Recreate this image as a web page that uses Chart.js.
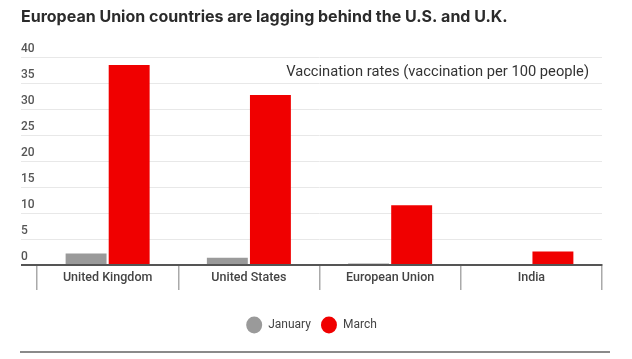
<!DOCTYPE html>
<html>
<head>
<meta charset="utf-8">
<script src="https://cdn.jsdelivr.net/npm/chart.js@4.4.1/dist/chart.umd.min.js"></script>
<style>
  html, body { margin: 0; padding: 0; background: #fff; }
  #wrap { width: 632px; height: 359px; }
</style>
</head>
<body>
<div id="wrap"><canvas id="barChart"></canvas></div>
<script>
const countries = ['United Kingdom', 'United States', 'European Union', 'India'];
const january = [2.2, 1.4, 0.3, 0];
const march = [38.5, 32.7, 11.5, 2.6];
const yTicks = [0, 5, 10, 15, 20, 25, 30, 35, 40];

const noteText = 'Vaccination rates (vaccination per 100 people)';

// annotation in the top right + rule under the legend
const extras = {
  id: 'extras',
  afterDraw: (chart) => {
    const ctx = chart.ctx;
    const area = chart.chartArea;
    ctx.save();
    ctx.font = '14.7px Roboto';
    ctx.fillStyle = '#333';
    ctx.textAlign = 'right';
    ctx.textBaseline = 'middle';
    ctx.fillText(noteText, area.right - 13, area.top + 15);
    ctx.strokeStyle = '#8a8a8a';
    ctx.lineWidth = 2;
    ctx.beginPath();
    ctx.moveTo(20, 352);
    ctx.lineTo(610, 352);
    ctx.stroke();
    ctx.restore();
  }
};

new Chart('barChart', {
  type: 'bar',
  data: {
    labels: countries,
    datasets: [
      { label: 'January', data: january, backgroundColor: '#9a9a9a' },
      { label: 'March', data: march, backgroundColor: '#f00000' }
    ]
  },
  options: {
    responsive: true,
    maintainAspectRatio: false,
    animation: false,
    categoryPercentage: 0.61,
    barPercentage: 0.95,
    layout: { padding: { left: 21, right: 30, top: 0, bottom: 18 } },
    plugins: {
      title: {
        display: true,
        text: 'European Union countries are lagging behind the U.S. and U.K.',
        align: 'start',
        color: '#2b2b2b',
        font: { family: 'Inter', size: 16, weight: 'bold' },
        padding: { top: 8, bottom: 30 }
      },
      legend: {
        position: 'bottom',
        labels: {
          usePointStyle: true,
          pointStyle: 'circle',
          pointStyleWidth: 16,
          boxHeight: 12,
          color: '#444',
          font: { family: 'Roboto', size: 12 },
          padding: 10
        }
      },
      tooltip: { enabled: false }
    },
    scales: {
      x: {
        grid: {
          offset: true,
          drawOnChartArea: false,
          color: '#aaa',
          lineWidth: 1.5,
          tickLength: 25
        },
        border: { display: true, color: '#555', width: 2 },
        ticks: {
          padding: -20,
          color: '#444',
          font: { family: 'Roboto', size: 12.5, weight: 500 }
        },
        afterFit: (axis) => { axis.height += 44; }
      },
      y: {
        min: 0,
        max: 40,
        afterBuildTicks: (axis) => { axis.ticks = yTicks.map(v => ({ value: v })); },
        grid: {
          color: (c) => c.tick && c.tick.value === 0 ? '#555' : '#e8e8e8',
          lineWidth: (c) => c.tick && c.tick.value === 0 ? 2 : 1,
          tickLength: 16
        },
        border: { display: false },
        ticks: {
          crossAlign: 'far',
          padding: -14,
          labelOffset: -8,
          color: '#555',
          font: { family: 'Roboto', size: 12, weight: 500 }
        },
        afterFit: (axis) => { axis.width = 16; }
      }
    }
  },
  plugins: [extras]
});
</script>
</body>
</html>
